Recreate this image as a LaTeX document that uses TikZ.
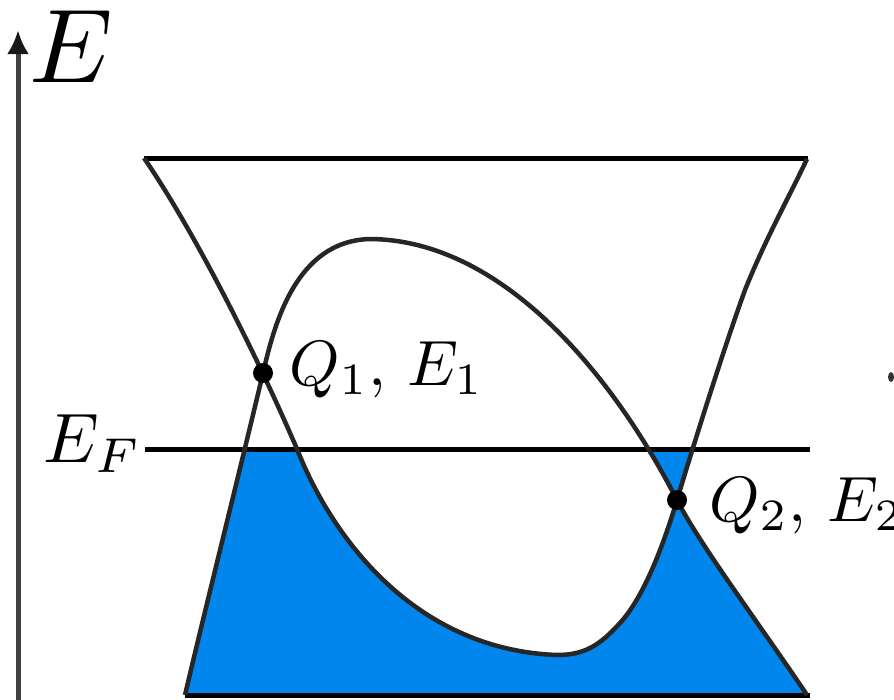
\documentclass[tikz,border=0pt]{standalone}
\usetikzlibrary{arrows.meta}
\definecolor{fillblue}{RGB}{0,134,236}
\begin{document}
\begin{tikzpicture}[x=1pt,y=-1pt,
  band/.style={line width=4.5pt, draw=black!85, line join=round},
  levelline/.style={line width=5pt, draw=black},
  axisline/.style={line width=5pt, draw=black!75, -{Latex[length=24pt,width=22pt,color=black!90]}},
  lbl/.style={inner sep=0pt, scale=6.4},
  dotq/.style={fill=black}]
\useasboundingbox (0,0) rectangle (894,699);
\def\valley{(144,158) .. controls (190,225) and (250,340) .. (297,449)
  .. controls (335,545) and (420,650) .. (557,655)
  .. controls (585,655) and (600,645) .. (620,623)
  .. controls (645,596) and (665,540) .. (677,500)
  .. controls (695,440) and (725,345) .. (745,290)
  .. controls (765,240) and (790,195) .. (807,159)}
\def\hill{(185,695) .. controls (205,610) and (240,470) .. (263,373)
  .. controls (274,326) and (295,241) .. (370,239)
  .. controls (500,240) and (610,370) .. (677,500)
  .. controls (700,545) and (760,625) .. (807,695)}
% filled states below E_F
\begin{scope}
  \clip (0,449) rectangle (894,699);
  \fill[fillblue, even odd rule] \hill -- cycle \valley -- cycle;
\end{scope}
% coordinates
\coordinate (tl) at (144,158);
\coordinate (tr) at (808,158);
\coordinate (fl) at (145,449);
\coordinate (fr) at (810,449);
\coordinate (bl) at (185,695);
\coordinate (br) at (810,695);
\coordinate (ax0) at (18,702);
\coordinate (ax1) at (18,30);
\coordinate (Q1) at (263,373);
\coordinate (Q2) at (677,500);
% lines
\draw[levelline] (tl) -- (tr);
\draw[levelline] (fl) -- (fr);
\draw[levelline] (bl) -- (br);
% bands
\draw[band] \valley;
\draw[band] \hill;
% axis
\draw[axisline] (ax0) -- (ax1);
% crossing points
\fill[dotq] (Q1) circle[radius=10pt];
\fill[dotq] (Q2) circle[radius=10pt];
% labels
\node[inner sep=0pt, scale=10.5, anchor=base west] (lE) at (27,82) {$E$};
\node[inner sep=0pt, scale=7, anchor=base west] (lEF) at (42,462) {$E_F$};
\node[lbl, anchor=base west] (lQ1) at (288,385) {$Q_1,\,E_1$};
\node[lbl, anchor=base west] (lQ2) at (708,521) {$Q_2,\,E_2$};
\fill[black!80] (891,377) ellipse[x radius=3pt, y radius=5pt];
\end{tikzpicture}
\end{document}
